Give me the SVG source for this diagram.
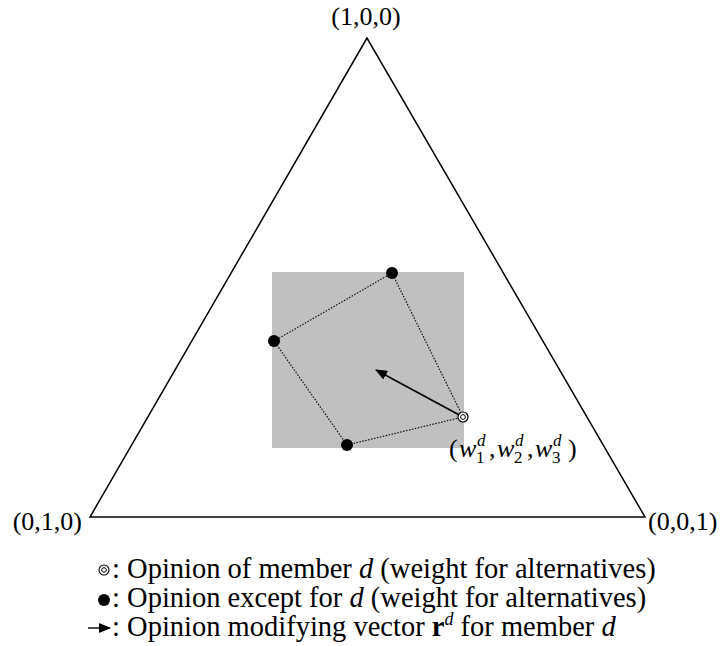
<svg xmlns="http://www.w3.org/2000/svg" width="723" height="646" viewBox="0 0 723 646">
<style>
text{font-family:"Liberation Serif","Times New Roman",serif;fill:#000}
.lbl{font-size:26px}
.leg{font-size:28.5px}
.it{font-style:italic}
.sm{font-size:17px}
.dotline{stroke:#111;stroke-width:1.2;stroke-dasharray:1.5 1.5;fill:none}
.dot{fill:#000}
</style>
<defs>
<marker id="ah" markerWidth="12" markerHeight="10" refX="11" refY="5" orient="auto" markerUnits="userSpaceOnUse">
<path d="M0,0 L12,5 L0,10 z" fill="#000"/>
</marker>
</defs>
<rect width="723" height="646" fill="#fff"/>
<g id="triangle">
<polygon points="367,38 90,517 645,517" fill="none" stroke="#000" stroke-width="1.5"/>
</g>
<g id="region">
<rect x="272" y="272" width="192" height="176" fill="#c0c0c0"/>
</g>
<g id="connectors">
<polyline class="dotline" points="392,273 274,341 347,445 463,417 392,273"/>
<line x1="463" y1="417" x2="376" y2="370" stroke="#000" stroke-width="1.6" marker-end="url(#ah)"/>
</g>
<g id="node-top"><circle class="dot" cx="392" cy="273" r="6"/></g>
<g id="node-left"><circle class="dot" cx="274" cy="341" r="6"/></g>
<g id="node-bottom"><circle class="dot" cx="347" cy="445" r="6"/></g>
<g id="node-d">
<circle cx="463" cy="417" r="5" fill="#fff" stroke="#000" stroke-width="1.2"/>
<circle cx="463" cy="417" r="2.4" fill="none" stroke="#000" stroke-width="1"/>
</g>
<g id="labels">
<text class="lbl" x="366" y="25" text-anchor="middle">(1,0,0)</text>
<text class="lbl" x="82" y="530" text-anchor="end">(0,1,0)</text>
<text class="lbl" x="648" y="530">(0,0,1)</text>
<g id="label-w">
<text class="lbl" x="449" y="457">(</text>
<text class="lbl it" x="459" y="457">w</text>
<text class="sm" x="476" y="463">1</text>
<text class="sm it" x="477" y="446">d</text>
<text class="lbl" x="489" y="457">,</text>
<text class="lbl it" x="497" y="457">w</text>
<text class="sm" x="514" y="463">2</text>
<text class="sm it" x="515" y="446">d</text>
<text class="lbl" x="527" y="457">,</text>
<text class="lbl it" x="535" y="457">w</text>
<text class="sm" x="552" y="463">3</text>
<text class="sm it" x="553" y="446">d</text>
<text class="lbl" x="568" y="457">)</text>
</g>
</g>
<g id="legend">
<circle cx="104" cy="570" r="5" fill="none" stroke="#000" stroke-width="1.1"/>
<circle cx="104" cy="570" r="2.3" fill="none" stroke="#000" stroke-width="1"/>
<text class="leg" x="112" y="578">: Opinion of member <tspan class="it">d</tspan> (weight for alternatives)</text>
<circle class="dot" cx="104" cy="600" r="6"/>
<text class="leg" x="112" y="607">: Opinion except for <tspan class="it">d</tspan> (weight for alternatives)</text>
<line x1="88" y1="628" x2="110" y2="628" stroke="#000" stroke-width="1.4" marker-end="url(#ah)"/>
<text class="leg" x="112" y="636">: Opinion modifying vector <tspan font-weight="bold">r</tspan><tspan class="it" font-size="18" dy="-11">d</tspan><tspan dy="11"> for member </tspan><tspan class="it">d</tspan></text>
</g>
</svg>
